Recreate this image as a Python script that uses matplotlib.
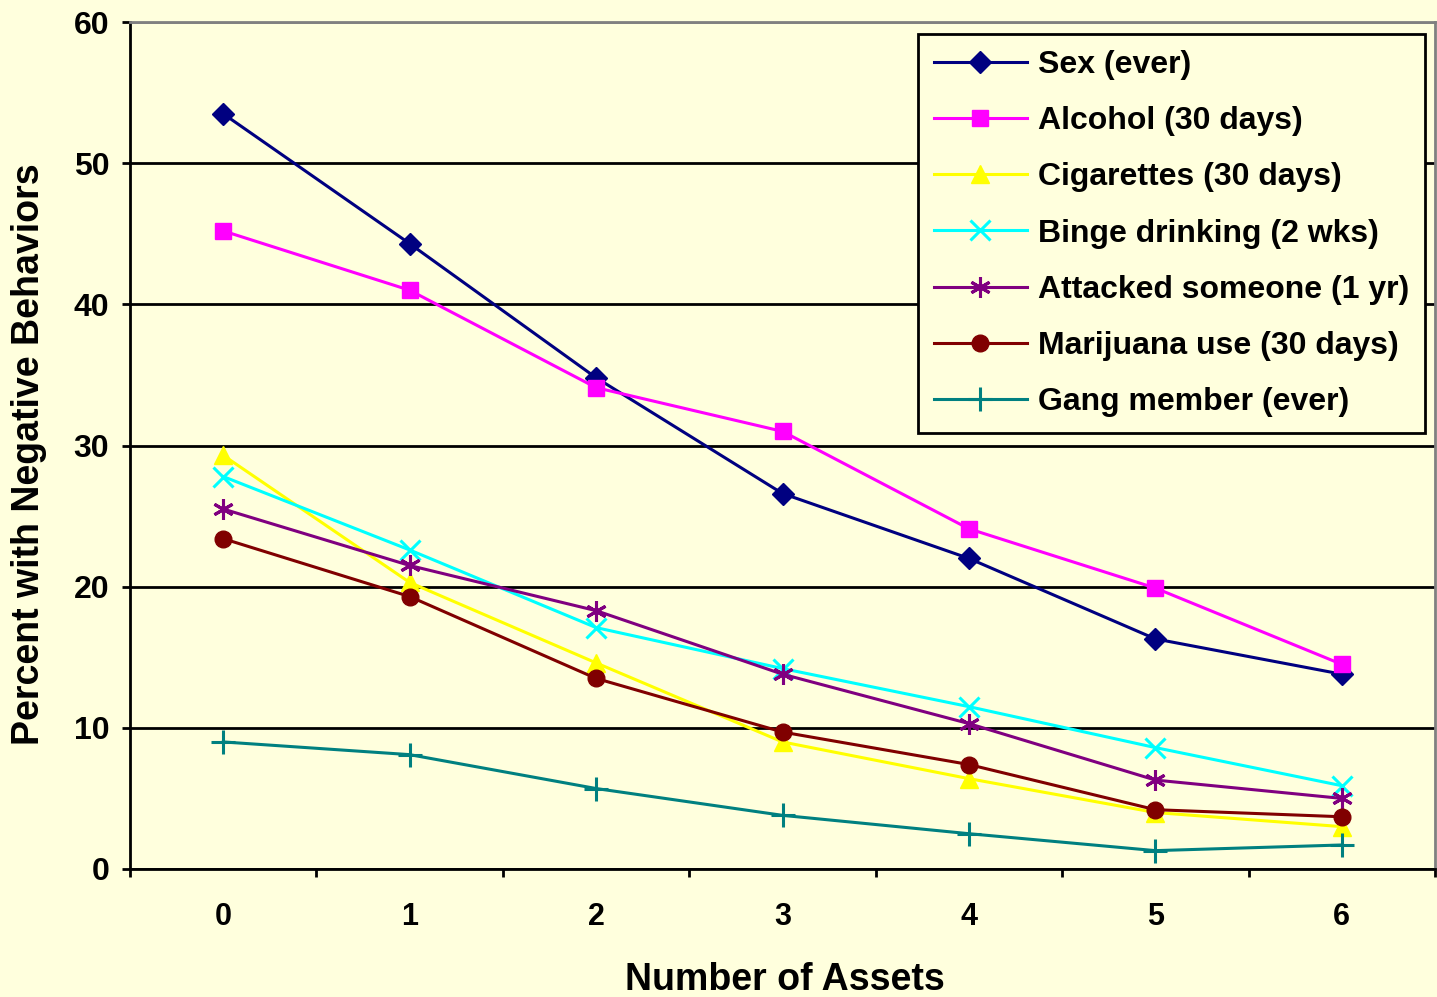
import matplotlib.pyplot as plt
import numpy as np

# данные с картинки
assets = [0, 1, 2, 3, 4, 5, 6]
sex = [53.5, 44.3, 34.8, 26.6, 22.0, 16.3, 13.8]
alcohol = [45.2, 41.0, 34.1, 31.0, 24.1, 19.9, 14.5]
cigarettes = [29.3, 20.3, 14.6, 9.0, 6.4, 4.0, 3.0]
binge = [27.8, 22.6, 17.1, 14.2, 11.5, 8.6, 5.9]
attacked = [25.5, 21.5, 18.3, 13.8, 10.3, 6.3, 5.0]
marijuana = [23.4, 19.3, 13.5, 9.7, 7.4, 4.2, 3.7]
gang = [9.0, 8.1, 5.7, 3.8, 2.5, 1.3, 1.7]

labels = ['Sex (ever)', 'Alcohol (30 days)', 'Cigarettes (30 days)',
          'Binge drinking (2 wks)', 'Attacked someone (1 yr)',
          'Marijuana use (30 days)', 'Gang member (ever)']
y_ticks = [0, 10, 20, 30, 40, 50, 60]

bg = '#FFFFDD'
plt.rcParams['font.family'] = ['Liberation Sans', 'DejaVu Sans']
plt.rcParams['font.weight'] = 'bold'

fig = plt.figure(figsize=(14.37, 9.97), dpi=100, facecolor=bg)
ax = fig.add_axes([0.0905, 0.1284, 0.9081, 0.8495], facecolor=bg)

series = [sex, alcohol, cigarettes, binge, attacked, marijuana, gang]
colors = ['#000080', '#FF00FF', '#FFFF00', '#00FFFF', '#800080', '#800000', '#008080']
markers = ['D', 's', '^', 'x', (6, 2, 0), 'o', '+']
sizes = [11, 11, 13, 14, 15, 12, 17]

x = np.array(assets)
for vals, lab, c, m, s in zip(series, labels, colors, markers, sizes):
    mew = 2.2 if m in ('x', '+') or isinstance(m, tuple) else 1
    ax.plot(x, vals, color=c, marker=m, markersize=s, linewidth=2.2,
            markeredgewidth=mew, label=lab, zorder=3)

ax.set_xlim(-0.5, 6.5)
ax.set_ylim(0, 60)
ax.set_yticks(y_ticks)
ax.set_xticks(assets)
ax.set_xticks(np.arange(-0.5, 7.0, 1.0), minor=True)
ax.tick_params(axis='x', which='major', length=0, pad=24, labelsize=22)
ax.tick_params(axis='x', which='minor', length=6, width=2, direction='out')
ax.tick_params(axis='y', length=6, width=2, direction='out', pad=9, labelsize=23)

ax.yaxis.grid(True, color='black', linewidth=2, zorder=1)
ax.get_ygridlines()[-1].set_color('gray')
ax.set_axisbelow(True)

for side in ['left', 'bottom']:
    ax.spines[side].set_linewidth(2)
    ax.spines[side].set_color('black')
for side in ['top', 'right']:
    ax.spines[side].set_linewidth(2)
    ax.spines[side].set_color('gray')

ax.set_ylabel('Percent with Negative Behaviors', fontsize=27, fontweight='bold')
ax.yaxis.set_label_coords(-0.064, 0.49)
fig.text(0.546, (997 - 980) / 997, 'Number of Assets', fontsize=27,
         fontweight='bold', ha='center', va='center')

leg = ax.legend(loc='upper right', bbox_to_anchor=(1425 / 1437, (997 - 34) / 997),
                bbox_transform=fig.transFigure, fontsize=23, frameon=True,
                fancybox=False, edgecolor='black', facecolor=bg, framealpha=1,
                handlelength=2.9, labelspacing=0.82, borderaxespad=0,
                handletextpad=0.35, borderpad=0.5)
leg.get_frame().set_linewidth(2)
for t in leg.get_texts():
    t.set_fontweight('bold')

plt.savefig('out.png', dpi=100, facecolor=bg)
